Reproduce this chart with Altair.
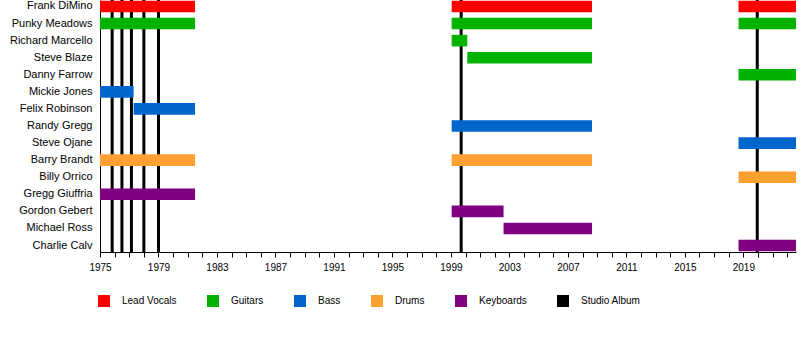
import altair as alt
import pandas as pd

# ---- data ----
members = ["Frank DiMino", "Punky Meadows", "Richard Marcello", "Steve Blaze",
           "Danny Farrow", "Mickie Jones", "Felix Robinson", "Randy Gregg",
           "Steve Ojane", "Barry Brandt", "Billy Orrico", "Gregg Giuffria",
           "Gordon Gebert", "Michael Ross", "Charlie Calv"]

roles = ["Lead Vocals", "Guitars", "Bass", "Drums", "Keyboards", "Studio Album"]
role_colors = ["#ff0000", "#00b300", "#0066cc", "#ffa030", "#800080", "#000000"]

bar_member = ["Frank DiMino", "Frank DiMino", "Frank DiMino",
              "Punky Meadows", "Punky Meadows", "Punky Meadows",
              "Richard Marcello", "Steve Blaze", "Danny Farrow",
              "Mickie Jones", "Felix Robinson", "Randy Gregg", "Steve Ojane",
              "Barry Brandt", "Barry Brandt", "Billy Orrico",
              "Gregg Giuffria", "Gordon Gebert", "Michael Ross", "Charlie Calv"]
bar_role = ["Lead Vocals", "Lead Vocals", "Lead Vocals",
            "Guitars", "Guitars", "Guitars",
            "Guitars", "Guitars", "Guitars",
            "Bass", "Bass", "Bass", "Bass",
            "Drums", "Drums", "Drums",
            "Keyboards", "Keyboards", "Keyboards", "Keyboards"]
bar_start = [1975.0, 1999.05, 2018.67,
             1975.0, 1999.05, 2018.67,
             1999.05, 2000.12, 2018.67,
             1975.0, 1977.3, 1999.05, 2018.67,
             1975.0, 1999.05, 2018.67,
             1975.0, 1999.05, 2002.6, 2018.67]
bar_end = [1981.5, 2008.65, 2022.6,
           1981.5, 2008.65, 2022.6,
           2000.12, 2008.65, 2022.6,
           1977.3, 1981.5, 2008.65, 2022.6,
           1981.5, 2008.65, 2022.6,
           1981.5, 2002.6, 2008.65, 2022.6]

album_years = [1975.83, 1976.5, 1977.15, 1978.0, 1979.0, 1999.7, 2019.95]

axis_years = list(range(1975, 2023))
x_start, x_end = 1975, 2022.6

# ---- tables ----
bars = pd.DataFrame({"member": bar_member, "role": bar_role,
                     "start": bar_start, "end": bar_end})
albums = pd.DataFrame({"year": album_years})

FONT = "Liberation Sans"

xscale = alt.Scale(domain=[x_start, x_end], nice=False, zero=False)

x_axis = alt.Axis(values=axis_years, format="d",
                  labelExpr="datum.value % 4 == 3 ? datum.label : ''",
                  labelFlush=False, labelOverlap=False, grid=False,
                  tickSize=5, tickColor="black", domainColor="black",
                  labelColor="black", labelFontSize=10, labelPadding=5,
                  labelFont=FONT, title=None)

rules = alt.Chart(albums).mark_rule(color="black", strokeWidth=3).encode(
    x=alt.X("year:Q", scale=xscale, axis=x_axis)
)

bar_layer = alt.Chart(bars).mark_bar().encode(
    x=alt.X("start:Q", scale=xscale, axis=x_axis),
    x2="end:Q",
    y=alt.Y("member:N", sort=members,
            scale=alt.Scale(domain=members, paddingInner=0.32, paddingOuter=0.04),
            axis=alt.Axis(ticks=False, domain=True, domainColor="black",
                          labelColor="black", labelFontSize=11, labelFont=FONT,
                          labelPadding=8, title=None)),
    color=alt.Color("role:N",
                    scale=alt.Scale(domain=roles, range=role_colors),
                    title=None,
                    legend=alt.Legend(orient="none", legendX=-2, legendY=295,
                                      direction="horizontal", columns=6,
                                      symbolType="square", symbolSize=144,
                                      symbolStrokeWidth=0, labelFontSize=10,
                                      labelFont=FONT, labelColor="black",
                                      labelOffset=12, columnPadding=30,
                                      padding=0)),
)

chart = alt.layer(rules, bar_layer).properties(
    width=696, height=252,
    padding={"left": 100, "top": 0, "right": 4, "bottom": 100},
    autosize=alt.AutoSizeParams(type="none"),
    background="white",
).configure_view(stroke=None)

chart.save("out.html", embed_options={"renderer": "svg", "actions": False})
